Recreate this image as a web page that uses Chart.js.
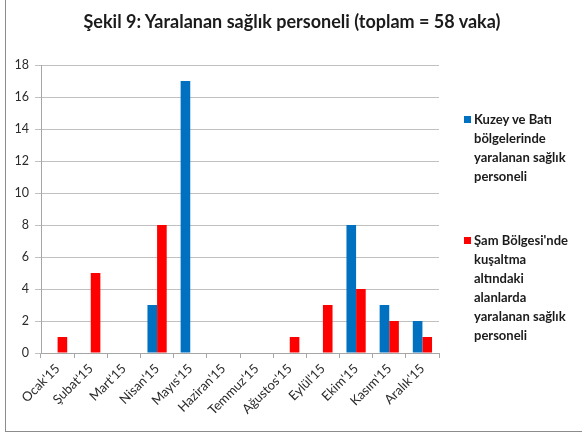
<!DOCTYPE html>
<html lang="tr">
<head>
<meta charset="utf-8">
<script src="https://cdn.jsdelivr.net/npm/chart.js@4"></script>
<style>
  html, body { margin:0; padding:0; background:#fff; }
  #wrap { position:relative; width:582px; height:439px; overflow:hidden; }
  #frame { position:absolute; left:5px; top:-2px; width:600px; height:434px;
           border-left:1px solid #8c8c8c; border-bottom:1px solid #8c8c8c; box-sizing:border-box; }
  canvas { position:absolute; left:0; top:0; }
  #title { position:absolute; left:0; width:584px; top:10px; text-align:center;
           font:bold 18px Lato, sans-serif; color:#1b1b1b; white-space:nowrap; }
  .leg { position:absolute; left:464px; font:bold 13px Lato, sans-serif; color:#1b1b1b; line-height:19px; }
  .leg i { position:absolute; left:0; top:6px; width:7px; height:7px; }
  .leg span { display:block; margin-left:10px; }
</style>
</head>
<body>
<div id="wrap">
  <div id="frame"></div>
  <canvas id="c" width="582" height="439"></canvas>
  <div id="title"></div>
  <div id="legend"></div>
</div>
<script>
// aylar
const months = ["Ocak'15","Şubat'15","Mart'15","Nisan'15","Mayıs'15","Haziran'15","Temmuz'15","Ağustos'15","Eylül'15","Ekim'15","Kasım'15","Aralık'15"];
const kuzeyBati = [0, 0, 0, 3, 17, 0, 0, 0, 0, 8, 3, 2];
const samBolgesi = [1, 5, 0, 8, 0, 0, 0, 1, 3, 4, 2, 1];
const seriesLabels = [
  ['Kuzey ve Batı', 'bölgelerinde', 'yaralanan sağlık', 'personeli'],
  ['Şam Bölgesi\'nde', 'kuşaltma', 'altındaki', 'alanlarda', 'yaralanan sağlık', 'personeli']
];
const seriesColors = ['#0070C0', '#FF0000'];
const titleText = 'Şekil 9: Yaralanan sağlık personeli (toplam = 58 vaka)';

const FONT = 'Lato, sans-serif';

document.getElementById('title').textContent = titleText;

const chart = new Chart(document.getElementById('c'), {
  type: 'bar',
  data: {
    labels: months,
    datasets: [
      { label: seriesLabels[0].join(' '), data: kuzeyBati, backgroundColor: seriesColors[0] },
      { label: seriesLabels[1].join(' '), data: samBolgesi, backgroundColor: seriesColors[1] }
    ]
  },
  options: {
    responsive: false,
    animation: false,
    layout: { padding: { left: 0, right: 143, top: 65, bottom: 0 } },
    datasets: { bar: { categoryPercentage: 0.58, barPercentage: 1.0 } },
    plugins: {
      legend: { display: false },
      tooltip: { enabled: false },
      title: { display: false }
    },
    scales: {
      x: {
        grid: { drawOnChartArea: false, offset: true, tickLength: 5, color: '#a6a6a6' },
        border: { color: '#a6a6a6' },
        ticks: { color: '#2b2b2b', font: { family: FONT, size: 13 }, minRotation: 45, maxRotation: 45, padding: 3 },
        afterFit: s => { s.height = 86; }
      },
      y: {
        min: 0, max: 18,
        ticks: { stepSize: 2, color: '#2b2b2b', font: { family: FONT, size: 12.5 }, padding: 6 },
        grid: { color: '#c0c0c0', tickLength: 6 },
        border: { color: '#a6a6a6' },
        afterFit: s => { s.width = 41; }
      }
    }
  }
});

// legend sağda, satır satır
const leg = document.getElementById('legend');
const legTops = [110, 231];
seriesLabels.forEach((lines, i) => {
  const d = document.createElement('div');
  d.className = 'leg';
  d.style.top = legTops[i] + 'px';
  d.innerHTML = '<i style="background:' + seriesColors[i] + '"></i>' + lines.map(l => '<span>' + l + '</span>').join('');
  leg.appendChild(d);
});
</script>
</body>
</html>
